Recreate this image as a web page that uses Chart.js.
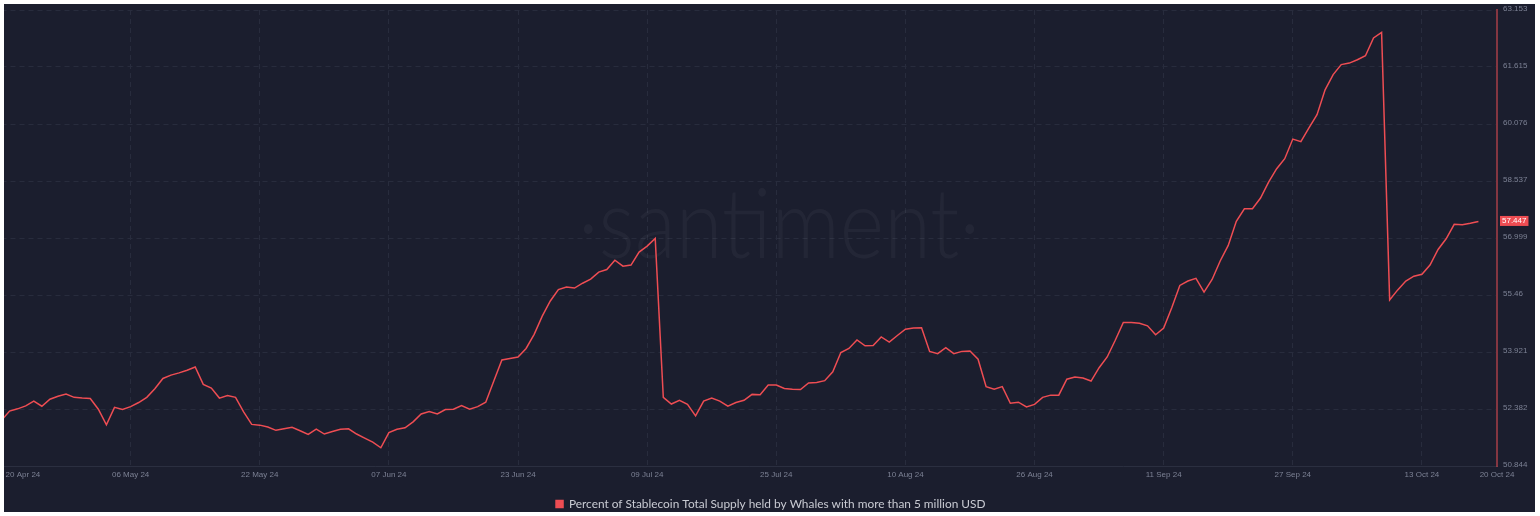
<!DOCTYPE html>
<html><head><meta charset="utf-8">
<script src="https://cdn.jsdelivr.net/npm/chart.js@4.4.1/dist/chart.umd.min.js"></script>
<style>
html,body{margin:0;padding:0;background:#fff;overflow:hidden;width:1540px;height:516px;}
#wrap{position:absolute;left:0;top:0;width:1540px;height:516px;overflow:hidden;background:#1b1e2e;}
#frame{position:absolute;left:0;top:0;width:1540px;height:516px;box-sizing:border-box;border-style:solid;border-color:#fff;border-width:4px 5px 4px 4px;pointer-events:none;}
canvas{display:block;}
</style></head>
<body>
<div id="wrap"><canvas id="c" width="1540" height="520"></canvas></div>
<div id="frame"></div>
<script>
const seriesName = 'Percent of Stablecoin Total Supply held by Whales with more than 5 million USD';

// daily values, 20 Apr 24 (index 0) .. 20 Oct 24 (index 183)
const whalePct = [
  52.08,52.33,52.39,52.47,52.60,52.46,52.65,52.73,52.79,52.70,
  52.68,52.67,52.38,51.96,52.43,52.37,52.45,52.56,52.70,52.93,
  53.21,53.30,53.36,53.43,53.52,53.05,52.95,52.68,52.75,52.70,
  52.31,51.97,51.95,51.90,51.81,51.85,51.89,51.80,51.70,51.84,
  51.71,51.78,51.84,51.85,51.71,51.60,51.49,51.34,51.75,51.84,
  51.88,52.04,52.25,52.32,52.25,52.37,52.38,52.48,52.38,52.45,
  52.57,53.14,53.71,53.75,53.79,54.02,54.40,54.89,55.30,55.61,
  55.68,55.65,55.78,55.89,56.08,56.15,56.40,56.24,56.27,56.62,
  56.78,56.99,52.70,52.52,52.62,52.51,52.20,52.60,52.68,52.60,
  52.46,52.56,52.62,52.78,52.77,53.03,53.03,52.94,52.92,52.91,
  53.09,53.10,53.15,53.39,53.91,54.02,54.25,54.09,54.10,54.33,
  54.19,54.37,54.54,54.57,54.58,53.94,53.88,54.04,53.88,53.94,
  53.95,53.73,52.99,52.92,52.99,52.54,52.57,52.44,52.51,52.70,
  52.76,52.76,53.19,53.25,53.22,53.14,53.50,53.79,54.24,54.72,
  54.72,54.70,54.63,54.39,54.57,55.12,55.72,55.84,55.91,55.54,
  55.88,56.38,56.80,57.45,57.79,57.79,58.08,58.51,58.87,59.14,
  59.67,59.60,59.97,60.33,61.00,61.41,61.68,61.72,61.81,61.92,
  62.40,62.55,55.33,55.60,55.84,55.97,56.02,56.27,56.69,56.98,
  57.37,57.36,57.40,57.447
];

const xTickPos    = [2.66, 16, 32, 48, 64, 80, 96, 112, 128, 144, 160, 176, 185.3];
const xTickLabels = ['20 Apr 24','06 May 24','22 May 24','07 Jun 24','23 Jun 24','09 Jul 24','25 Jul 24','10 Aug 24','26 Aug 24','11 Sep 24','27 Sep 24','13 Oct 24','20 Oct 24'];
const yTickValues = [50.844, 52.382, 53.921, 55.46, 56.999, 58.537, 60.076, 61.615, 63.153];
const yTickLabels = ['50.844','52.382','53.921','55.46','56.999','58.537','60.076','61.615','63.153'];

const RED = '#ee4d53';
const GRID = '#282c3d';
const TICK = '#7c8194';
const TICKFONT = {family:'"Liberation Sans", Arial, sans-serif', size:8};

const mctx = document.createElement('canvas').getContext('2d');
mctx.font = '11px Lato';
const legendSize = 11 * 417 / mctx.measureText(seriesName).width;

const watermark = {
  id:'watermark',
  beforeDatasetsDraw(chart){
    const ctx = chart.ctx;
    ctx.save();
    ctx.font = '300 96px Lato';
    ctx.fillStyle = 'rgba(255,255,255,0.04)';
    ctx.textAlign = 'center';
    ctx.textBaseline = 'alphabetic';
    const txt = '\u00B7santiment\u00B7';
    const w = ctx.measureText(txt).width;
    ctx.translate(779, 258);
    ctx.scale(402 / w, 1);
    ctx.fillText(txt, 0, 0);
    ctx.restore();
  }
};

const lastLabel = {
  id:'lastLabel',
  afterDraw(chart){
    const ctx = chart.ctx, ys = chart.scales.y;
    const v = whalePct[whalePct.length - 1];
    const y = ys.getPixelForValue(v);
    ctx.save();
    ctx.font = '8px "Liberation Sans", Arial, sans-serif';
    const txt = v.toFixed(3);
    const w = ctx.measureText(txt).width + 4;
    ctx.fillStyle = RED;
    ctx.fillRect(ys.left + 3, y - 5.5, w, 10);
    ctx.fillStyle = '#ffffff';
    ctx.textBaseline = 'middle';
    ctx.textAlign = 'left';
    ctx.fillText(txt, ys.left + 5, y - 0.5);
    ctx.restore();
  }
};

new Chart(document.getElementById('c'), {
  type:'line',
  data:{
    datasets:[{
      label: seriesName,
      data: whalePct.map((v,i)=>({x:i, y:v})),
      borderColor: RED,
      backgroundColor: RED,
      borderWidth: 1.5,
      pointRadius: 0,
      tension: 0,
      fill: false
    }]
  },
  options:{
    responsive:false,
    animation:false,
    devicePixelRatio:1,
    layout:{padding:{top:10, left:1.5, right:0, bottom:0}},
    plugins:{
      legend:{
        position:'bottom',
        labels:{boxWidth:7, boxHeight:7, padding:6, color:'#c9cbd3', font:{family:'Lato', size:legendSize}}
      },
      tooltip:{enabled:false}
    },
    scales:{
      x:{
        type:'linear', min:0, max:185.3,
        afterBuildTicks(s){ s.ticks = xTickPos.map(v=>({value:v})); },
        afterFit(s){ s.height = 26; s.paddingLeft = 0; s.paddingRight = 0; },
        ticks:{autoSkip:false, maxRotation:0, padding:4, color:TICK, font:TICKFONT,
          callback:(v,i)=>xTickLabels[i]},
        grid:{drawTicks:false, lineWidth:1,
          color: c => (c.index===0 || c.index===xTickPos.length-1) ? 'rgba(0,0,0,0)' : GRID},
        border:{display:true, color:'#2b2f40', width:1, dash:[5,4]}
      },
      y:{
        type:'linear', position:'right', min:50.844, max:63.153,
        afterBuildTicks(s){ s.ticks = yTickValues.map(v=>({value:v})); },
        afterFit(s){ s.width = 43; s.paddingTop = 0; s.paddingBottom = 0; },
        ticks:{padding:6, color:TICK, font:TICKFONT, labelOffset:-1.5,
          callback:(v,i)=>yTickLabels[i]},
        grid:{drawTicks:false, lineWidth:1, color:GRID},
        border:{display:true, color:'rgba(238,77,83,0.5)', width:2, dash:[5,4]}
      }
    }
  },
  plugins:[watermark, lastLabel]
});
</script>
</body></html>
